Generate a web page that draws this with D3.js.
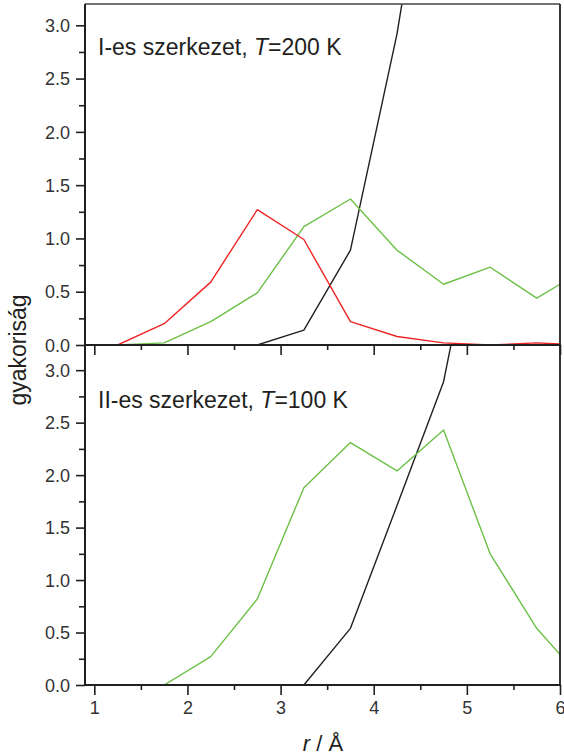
<!DOCTYPE html>
<html>
<head>
<meta charset="utf-8">
<script src="https://cdn.jsdelivr.net/npm/d3@7"></script>
<style>
  body { margin: 0; background: #fff; }
  svg { font-family: "Liberation Sans", Arial, sans-serif; }
  .tick text { fill: #333; font-size: 18px; }
  .axis path, .axis line { stroke: #231f20; }
</style>
</head>
<body>
<svg id="chart" width="564" height="753"></svg>
<script>
// r values (Å) of the distribution bins
var rValues = [0.75, 1.25, 1.75, 2.25, 2.75, 3.25, 3.75, 4.25, 4.75, 5.25, 5.75, 6.25];

// top panel: I-es szerkezet, T=200 K
var topRed   = [0, 0, 0.20, 0.59, 1.27, 0.99, 0.22, 0.08, 0.02, 0.00, 0.02, 0.00];
var topGreen = [0, 0, 0.02, 0.22, 0.49, 1.11, 1.37, 0.89, 0.57, 0.73, 0.44, 0.70];
var topBlack = [0, 0, 0, 0, 0, 0.14, 0.89, 2.92, 5.6, 5.4, 4.8, 4.4];

// bottom panel: II-es szerkezet, T=100 K
var botGreen = [0, 0, 0, 0.27, 0.82, 1.88, 2.31, 2.04, 2.43, 1.25, 0.54, 0.04];
var botBlack = [0, 0, 0, 0, 0, 0, 0.54, 1.71, 2.89, 5.1, 5.5, 5.0];

var xTicks = [1, 2, 3, 4, 5, 6];
var xMinor = [1.5, 2.5, 3.5, 4.5, 5.5];
var yTicks = [0, 0.5, 1.0, 1.5, 2.0, 2.5, 3.0];
var yMinor = [0.25, 0.75, 1.25, 1.75, 2.25, 2.75];

var colors = {red: "#ee2424", green: "#6cc046", black: "#231f20"};

var svg = d3.select("#chart");

var x = d3.scaleLinear().domain([0.9, 6]).range([85, 560]);
var yTop = d3.scaleLinear().domain([0, 3.2]).range([345, 4]);
var yBot = d3.scaleLinear().domain([0, 3.24]).range([685, 345]);

var defs = svg.append("defs");
defs.append("clipPath").attr("id", "clipTop")
  .append("rect").attr("x", 85).attr("y", 4).attr("width", 475).attr("height", 341);
defs.append("clipPath").attr("id", "clipBot")
  .append("rect").attr("x", 85).attr("y", 345).attr("width", 475).attr("height", 340);

function drawLine(ys, yScale, color, clip) {
  var line = d3.line()
    .x(function(d, i) { return x(rValues[i]); })
    .y(function(d) { return yScale(d); });
  svg.append("path")
    .datum(ys)
    .attr("clip-path", "url(#" + clip + ")")
    .attr("fill", "none")
    .attr("stroke", color)
    .attr("stroke-width", 1.4)
    .attr("stroke-linejoin", "round")
    .attr("d", line);
}

function yAxis(yScale) {
  var g = svg.append("g").attr("class", "axis").attr("transform", "translate(85,0)");
  g.call(d3.axisLeft(yScale).tickValues(yTicks).tickFormat(d3.format(".1f"))
      .tickSize(9).tickPadding(6).tickSizeOuter(0));
  g.select(".domain").remove();
  g.selectAll(".tick line").attr("stroke-width", 1.6);
  g.selectAll(".tick text").attr("dy", "0.34em");
  var m = svg.append("g").attr("class", "axis").attr("transform", "translate(85,0)");
  m.call(d3.axisLeft(yScale).tickValues(yMinor).tickSize(6).tickFormat("").tickSizeOuter(0));
  m.select(".domain").remove();
  m.selectAll(".tick line").attr("stroke-width", 1.6);
}

function xAxis(y0, labels) {
  var g = svg.append("g").attr("class", "axis").attr("transform", "translate(0," + y0 + ")");
  g.call(d3.axisBottom(x).tickValues(xTicks).tickSize(10).tickPadding(6)
      .tickFormat(labels ? d3.format("d") : "").tickSizeOuter(0));
  g.select(".domain").remove();
  g.selectAll(".tick line").attr("stroke-width", 1.6);
  var m = svg.append("g").attr("class", "axis").attr("transform", "translate(0," + y0 + ")");
  m.call(d3.axisBottom(x).tickValues(xMinor).tickSize(5).tickFormat("").tickSizeOuter(0));
  m.select(".domain").remove();
  m.selectAll(".tick line").attr("stroke-width", 1.6);
}

// lines
drawLine(topBlack, yTop, colors.black, "clipTop");
drawLine(topGreen, yTop, colors.green, "clipTop");
drawLine(topRed, yTop, colors.red, "clipTop");
drawLine(botBlack, yBot, colors.black, "clipBot");
drawLine(botGreen, yBot, colors.green, "clipBot");

// frame
svg.append("line").attr("x1", 85).attr("x2", 560).attr("y1", 4).attr("y2", 4)
  .attr("stroke", "#444").attr("stroke-width", 1.6);
svg.append("line").attr("x1", 560).attr("x2", 560).attr("y1", 4).attr("y2", 685)
  .attr("stroke", "#231f20").attr("stroke-width", 1.8);
svg.append("line").attr("x1", 85).attr("x2", 85).attr("y1", 4).attr("y2", 685)
  .attr("stroke", "#231f20").attr("stroke-width", 2);
svg.append("line").attr("x1", 84).attr("x2", 561).attr("y1", 345).attr("y2", 345)
  .attr("stroke", "#231f20").attr("stroke-width", 2);
svg.append("line").attr("x1", 84).attr("x2", 561).attr("y1", 685).attr("y2", 685)
  .attr("stroke", "#231f20").attr("stroke-width", 2);

yAxis(yTop);
yAxis(yBot);
xAxis(345, false);
xAxis(685, true);

// panel titles
var t1 = svg.append("text").attr("x", 98).attr("y", 55)
  .attr("font-size", 23).attr("fill", "#231f20");
t1.append("tspan").text("I-es szerkezet, ");
t1.append("tspan").attr("font-style", "italic").text("T");
t1.append("tspan").text("=200 K");

var t2 = svg.append("text").attr("x", 98).attr("y", 408)
  .attr("font-size", 23).attr("fill", "#231f20");
t2.append("tspan").text("II-es szerkezet, ");
t2.append("tspan").attr("font-style", "italic").text("T");
t2.append("tspan").text("=100 K");

// axis titles
svg.append("text")
  .attr("transform", "translate(26,350) rotate(-90)")
  .attr("text-anchor", "middle")
  .attr("font-size", 23).attr("fill", "#231f20")
  .text("gyakoriság");

var xt = svg.append("text").attr("x", 323).attr("y", 751)
  .attr("text-anchor", "middle").attr("font-size", 22).attr("fill", "#231f20");
xt.append("tspan").attr("font-style", "italic").text("r");
xt.append("tspan").text(" / Å");
</script>
</body>
</html>
